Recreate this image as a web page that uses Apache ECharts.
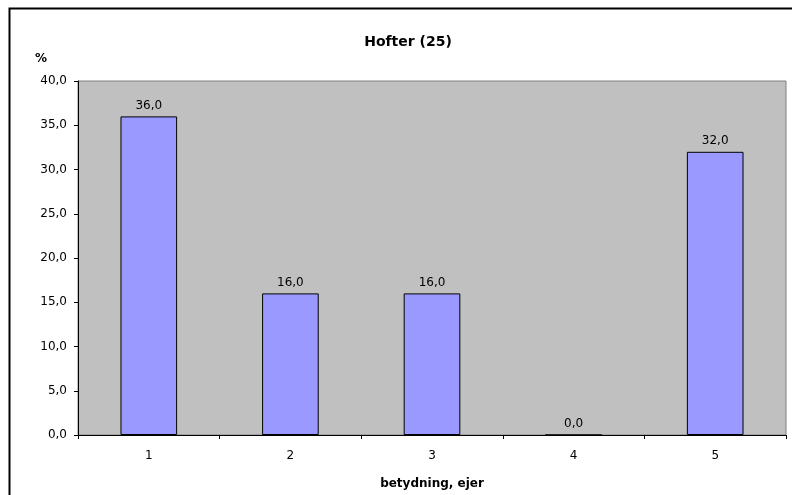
<!DOCTYPE html>
<html><head><meta charset="utf-8">
<script src="https://cdn.jsdelivr.net/npm/echarts@6/dist/echarts.min.js"></script>
<style>html,body{margin:0;padding:0;background:#fff}#c{width:792px;height:495px}</style>
</head><body><div id="c"></div>
<script>
const categories = ['1','2','3','4','5'];
const values = [36.0, 16.0, 16.0, 0.0, 32.0];
const yTicks = [0,5,10,15,20,25,30,35,40];
const titleText = 'Hofter (25)';
const xName = 'betydning, ejer';
const yName = '%';

const fmt = v => v.toFixed(1).replace('.', ',');
const F = 'DejaVu Sans, Liberation Sans, Arial, sans-serif';
const chart = echarts.init(document.getElementById('c'), null, {renderer:'canvas'});
chart.setOption({
  animation:false,
  backgroundColor:'#fff',
  title:{text:titleText, left:403, top:30, textAlign:'center',
    textStyle:{fontFamily:F, fontSize:14, fontWeight:'bold', color:'#000'}},
  graphic:[{type:'rect', left:7, top:6, shape:{width:800, height:500},
    style:{fill:'none', stroke:'#000', lineWidth:2}, silent:true, z:100},
    {type:'text', left:35, top:53, style:{text:yName, font:'bold 12px '+F, fill:'#000'}}],
  grid:{left:78, right:6, top:81, bottom:56, show:true, backgroundColor:'#C0C0C0', borderColor:'#808080', borderWidth:1},
  xAxis:{type:'category', data:categories, name:xName, nameLocation:'middle', nameGap:43,
    nameTextStyle:{fontFamily:F, fontSize:12, fontWeight:'bold', color:'#000'},
    axisLine:{lineStyle:{color:'#000', width:1}},
    axisTick:{show:true, alignWithLabel:false, length:4, lineStyle:{color:'#000'}},
    axisLabel:{fontFamily:F, fontSize:12, color:'#000', margin:15},
    splitLine:{show:false}},
  yAxis:{type:'value', min:0, max:40, interval:5,
    axisLine:{show:true, lineStyle:{color:'#000', width:1}},
    axisTick:{show:true, length:4, lineStyle:{color:'#000'}},
    axisLabel:{fontFamily:F, fontSize:12, color:'#000', margin:11, formatter:v=>fmt(v)},
    splitLine:{show:false}},
  series:[{type:'bar', data:values, barWidth:'40%',
    itemStyle:{color:'#9999FF', borderColor:'#000', borderWidth:1},
    label:{show:true, position:'top', distance:5, formatter:p=>fmt(p.value), fontFamily:F, fontSize:12, color:'#000'}}]
});
</script></body></html>
